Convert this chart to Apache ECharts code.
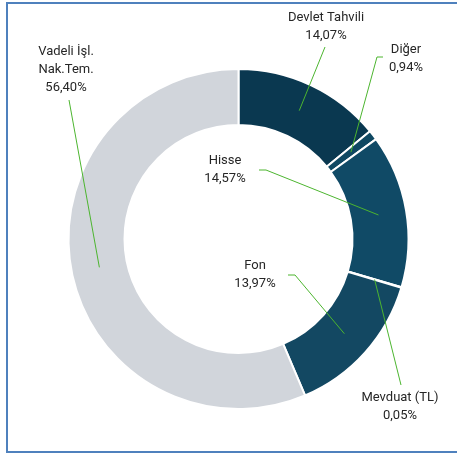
<!DOCTYPE html>
<html>
<head>
<meta charset="utf-8">
<script src="https://cdn.jsdelivr.net/npm/echarts@6/dist/echarts.min.js"></script>
<style>
  html, body { margin: 0; padding: 0; background: #fff; }
  .frame {
    position: absolute; left: 6px; top: 2px; width: 460px; height: 447px;
    border: 2px solid #4f81bd; border-right: none;
  }
  .chart { position: absolute; left: 0; top: 0; width: 457px; height: 453px; }
</style>
</head>
<body>
<div class="frame"></div>
<div class="chart" id="chart"></div>
<script>
const names = ['Devlet Tahvili', 'Diğer', 'Hisse', 'Mevduat (TL)', 'Fon', 'Vadeli İşl.\nNak.Tem.']
const values = [14.07, 0.94, 14.57, 0.05, 13.97, 56.40]
const colors = ['#0a3850', '#0f4862', '#104a66', '#114a66', '#134862', '#d1d5db']

// where each label sits (text block centre) and the leader line start / stub
const labelPos = [[326, 27], [406, 59], [225, 170], [400, 407], [255, 275], [66, 70]]
const lineStart = [[[325, 47]], [[383, 57], [377, 57]], [[259, 170], [266, 170]], [[401, 385]], [[288, 275], [295, 275]], [[69, 100]]]

const cx = 238.5, cy = 239, rIn = 114, rOut = 170
const total = values.reduce((a, b) => a + b, 0)

function anchor (i) {
  let before = 0
  for (let k = 0; k < i; k++) before += values[k]
  const a = (before + values[i] / 2) / total * Math.PI * 2
  const r = (rIn + rOut) / 2
  return [cx + r * Math.sin(a), cy - r * Math.cos(a)]
}

const pieData = names.map((n, i) => ({ name: n, value: values[i] }))

const myChart = echarts.init(document.getElementById('chart'))
myChart.setOption({
  animation: false,
  series: [{
    // the ring itself
    type: 'pie',
    z: 2,
    center: [cx, cy],
    radius: [rIn, rOut],
    startAngle: 90,
    clockwise: true,
    silent: true,
    itemStyle: {
      borderColor: '#fff',
      borderWidth: 2
    },
    label: { show: false },
    labelLine: { show: false },
    data: pieData.map((d, i) => ({ name: d.name, value: d.value, itemStyle: { color: colors[i] } }))
  }, {
    // labels + leader lines drawn over the ring
    type: 'pie',
    z: 3,
    center: [cx, cy],
    radius: [rIn, rOut],
    startAngle: 90,
    clockwise: true,
    silent: true,
    avoidLabelOverlap: false,
    itemStyle: { color: 'rgba(0,0,0,0)', borderWidth: 0 },
    label: {
      show: true,
      color: '#262626',
      fontFamily: 'Roboto',
      fontSize: 13,
      lineHeight: 18,
      align: 'center',
      formatter: function (p) {
        return p.name + '\n' + p.value.toFixed(2).replace('.', ',') + '%'
      }
    },
    labelLine: {
      show: true,
      lineStyle: { color: '#4cb52f', width: 1 }
    },
    labelLayout: function (params) {
      const i = params.dataIndex
      const pts = lineStart[i].slice()
      pts.push(anchor(i))
      while (pts.length < 3) pts.splice(1, 0, pts[0])
      return {
        x: labelPos[i][0],
        y: labelPos[i][1],
        align: 'center',
        verticalAlign: 'middle',
        labelLinePoints: pts
      }
    },
    data: pieData
  }]
})
</script>
</body>
</html>
